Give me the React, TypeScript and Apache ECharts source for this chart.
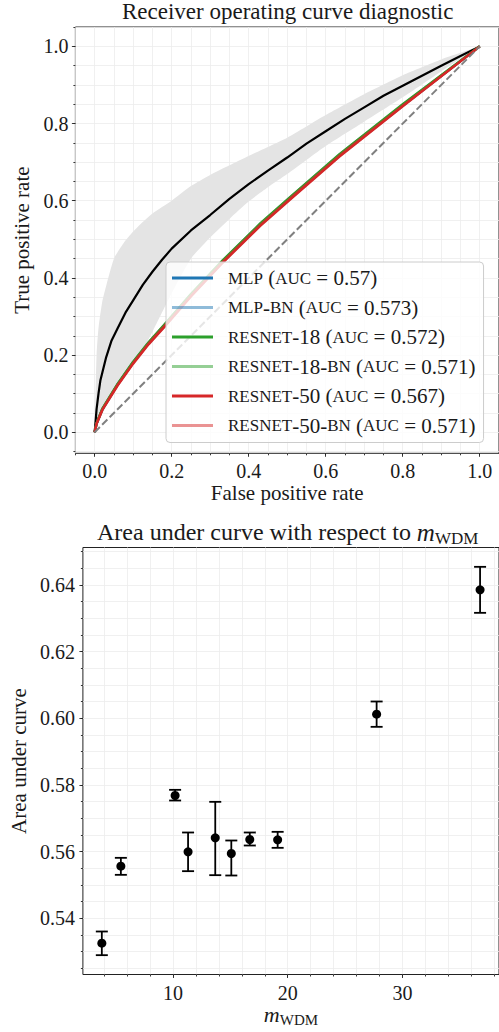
import React, { useEffect, useRef } from 'react';
import * as echarts from 'echarts';

// ---------- Top chart data (ROC) ----------
const bandFpr = [0, 0.005, 0.01, 0.02, 0.03, 0.05, 0.075, 0.1, 0.125, 0.15, 0.2, 0.25, 0.3, 0.35, 0.4, 0.45, 0.5, 0.6, 0.7, 0.8, 0.9, 1.0];
const bandHigh = [0, 0.2, 0.27, 0.34, 0.38, 0.45, 0.49, 0.52, 0.545, 0.567, 0.6, 0.638, 0.667, 0.692, 0.716, 0.739, 0.763, 0.822, 0.876, 0.925, 0.966, 1.0];
const bandLow = [0, 0.012, 0.025, 0.048, 0.068, 0.1, 0.14, 0.175, 0.215, 0.26, 0.36, 0.45, 0.505, 0.553, 0.598, 0.635, 0.669, 0.742, 0.805, 0.868, 0.935, 1.0];

const meanFpr = [0, 0.003, 0.005, 0.01, 0.015, 0.02, 0.03, 0.044, 0.06, 0.08, 0.1, 0.125, 0.15, 0.175, 0.2, 0.25, 0.3, 0.35, 0.4, 0.45, 0.5, 0.55, 0.6, 0.65, 0.7, 0.75, 0.8, 0.85, 0.9, 0.95, 1.0];
const meanTpr = [0, 0.035, 0.06, 0.1, 0.135, 0.155, 0.195, 0.238, 0.27, 0.31, 0.342, 0.382, 0.416, 0.447, 0.476, 0.523, 0.563, 0.605, 0.643, 0.678, 0.712, 0.748, 0.78, 0.812, 0.842, 0.872, 0.898, 0.924, 0.95, 0.975, 1.0];

const rocFpr = [0, 0.005, 0.02, 0.06, 0.1, 0.14, 0.18, 0.25, 0.333, 0.43, 0.506, 0.635, 0.8, 1.0];
const tprMlp = [0, 0.023, 0.059, 0.124, 0.18, 0.23, 0.274, 0.354, 0.442, 0.537, 0.604, 0.716, 0.846, 1.0];
const tprMlpBn = [0, 0.023, 0.06, 0.125, 0.182, 0.232, 0.277, 0.357, 0.445, 0.54, 0.607, 0.719, 0.849, 1.0];
const tprResnet18 = [0, 0.024, 0.061, 0.126, 0.183, 0.233, 0.278, 0.358, 0.446, 0.541, 0.608, 0.72, 0.85, 1.0];
const tprResnet18Bn = [0, 0.023, 0.06, 0.125, 0.181, 0.232, 0.276, 0.356, 0.444, 0.539, 0.606, 0.718, 0.848, 1.0];
const tprResnet50 = [0, 0.022, 0.058, 0.122, 0.178, 0.228, 0.272, 0.352, 0.44, 0.535, 0.602, 0.714, 0.845, 1.0];
const tprResnet50Bn = [0, 0.023, 0.06, 0.124, 0.18, 0.231, 0.275, 0.355, 0.443, 0.538, 0.605, 0.717, 0.847, 1.0];

const modelNames = ['MLP', 'MLP-BN', 'RESNET-18', 'RESNET-18-BN', 'RESNET-50', 'RESNET-50-BN'];
const modelAuc = ['0.57', '0.573', '0.572', '0.571', '0.567', '0.571'];
const modelTpr = [tprMlp, tprMlpBn, tprResnet18, tprResnet18Bn, tprResnet50, tprResnet50Bn];
const modelColors = ['#1f77b4', 'rgba(31,119,180,0.5)', '#2ca02c', 'rgba(44,160,44,0.5)', '#d62728', 'rgba(214,39,40,0.5)'];

const diagX = [0, 1];
const diagY = [0, 1];

const topMajorTicks = [0, 0.2, 0.4, 0.6, 0.8, 1.0];
const topMinorTicks = [-0.05, 0, 0.05, 0.1, 0.15, 0.2, 0.25, 0.3, 0.35, 0.4, 0.45, 0.5, 0.55, 0.6, 0.65, 0.7, 0.75, 0.8, 0.85, 0.9, 0.95, 1.0, 1.05];

// ---------- Bottom chart data (AUC vs m_WDM) ----------
const mWdm = [3.79, 5.45, 10.18, 11.31, 13.68, 15.08, 16.69, 19.12, 27.75, 36.77];
const aucMean = [0.5325, 0.5556, 0.5768, 0.5599, 0.5641, 0.5594, 0.5636, 0.5635, 0.6012, 0.6385];
const aucLow = [0.5289, 0.553, 0.5753, 0.5541, 0.5529, 0.5528, 0.5618, 0.5611, 0.5974, 0.6316];
const aucHigh = [0.536, 0.5581, 0.5785, 0.5657, 0.5749, 0.5633, 0.5657, 0.5659, 0.605, 0.6454];

const botXMajor = [10, 20, 30];
const botXMinor = [4, 6, 8, 10, 12, 14, 16, 18, 20, 22, 24, 26, 28, 30, 32, 34, 36, 38];
const botYMajor = [0.54, 0.56, 0.58, 0.6, 0.62, 0.64];
const botYMinor = [0.525, 0.53, 0.535, 0.54, 0.545, 0.55, 0.555, 0.56, 0.565, 0.57, 0.575, 0.58, 0.585, 0.59, 0.595, 0.6, 0.605, 0.61, 0.615, 0.62, 0.625, 0.63, 0.635, 0.64, 0.645, 0.65];

const FONT = 'Liberation Serif';
const TEXT = '#1a1a1a';
const tickLine = { color: '#222222', width: 0.9 };
const gridLine = { color: '#ececec', width: 0.8 };

const axisRich = {
  t: { fontFamily: FONT, fontSize: 20, color: TEXT },
};
const nameRich = {
  t: { fontFamily: FONT, fontSize: 21, color: TEXT },
  i: { fontFamily: FONT, fontSize: 22, fontStyle: 'italic', color: TEXT },
  s: { fontFamily: FONT, fontSize: 15, color: TEXT, padding: [12, 0, 0, 0] },
};

function minorAxis(gridIndex: number, min: number, max: number, ticks: number[], pos: string) {
  return {
    gridIndex, type: 'value', min, max, position: pos,
    axisLine: { show: false, onZero: false },
    axisTick: { show: true, length: 2, customValues: ticks, lineStyle: tickLine },
    axisLabel: { show: false },
    splitLine: { show: true, lineStyle: gridLine },
  };
}

function majorAxis(gridIndex: number, min: number, max: number, ticks: number[], pos: string, digits: number, margin: number, name: string, nameGap: number) {
  return {
    gridIndex, type: 'value', min, max, position: pos,
    axisLine: { show: false, onZero: false },
    axisTick: { show: true, length: 3.5, customValues: ticks, lineStyle: tickLine },
    axisLabel: {
      show: true, fontFamily: FONT, fontSize: 20, color: TEXT, customValues: ticks, margin,
      formatter: (v: number) => `{t|${digits >= 0 ? v.toFixed(digits) : String(Math.round(v))}}`,
      rich: axisRich,
    },
    splitLine: { show: false },
    name, nameLocation: 'middle', nameGap,
    nameTextStyle: { fontFamily: FONT, fontSize: 21, color: TEXT, rich: nameRich },
  };
}

const legendRich = {
  n: { fontFamily: FONT, fontSize: 21, color: TEXT, lineHeight: 22 },
  sc: { fontFamily: FONT, fontSize: 17, color: TEXT, lineHeight: 22 },
};

function legendLabel(name: string) {
  const i = modelNames.indexOf(name);
  const parts = name.split('-').map((p) => (/^[0-9]+$/.test(p) ? `{n|${p}}` : `{sc|${p}}`));
  return `${parts.join('{n|-}')}{n| (}{sc|AUC}{n| = ${modelAuc[i]})}`;
}

function buildOption(): any {
  const series: any[] = [];
  // band (fill between lower and upper edge)
  series.push({
    type: 'custom', xAxisIndex: 1, yAxisIndex: 1, silent: true, z: 1,
    encode: { x: 0, y: [1, 2] },
    data: bandFpr.map((x, i) => [x, bandLow[i], bandHigh[i]]),
    renderItem: (params: any, api: any) => {
      if (params.dataIndex !== 0) return null;
      const pts: number[][] = [];
      for (let i = 0; i < bandFpr.length; i++) pts.push(api.coord([bandFpr[i], bandHigh[i]]));
      for (let i = bandFpr.length - 1; i >= 0; i--) pts.push(api.coord([bandFpr[i], bandLow[i]]));
      return { type: 'polygon', shape: { points: pts, smooth: 0.2 }, style: { fill: '#e4e4e4' } };
    },
  });
  // mean curve
  series.push({
    type: 'line', xAxisIndex: 1, yAxisIndex: 1, symbol: 'none', silent: true, z: 3,
    lineStyle: { color: '#000000', width: 2.2 },
    data: meanFpr.map((x, i) => [x, meanTpr[i]]),
  });
  modelNames.forEach((n, k) => {
    series.push({
      name: n, type: 'line', xAxisIndex: 1, yAxisIndex: 1, symbol: 'none', z: 4,
      color: modelColors[k],
      lineStyle: { color: modelColors[k], width: 2.5 },
      data: rocFpr.map((x, i) => [x, modelTpr[k][i]]),
    });
  });
  series.push({
    type: 'line', xAxisIndex: 1, yAxisIndex: 1, symbol: 'none', silent: true, z: 5,
    lineStyle: { color: '#808080', width: 2, type: [7.4, 3.2] },
    data: diagX.map((x, i) => [x, diagY[i]]),
  });

  // bottom: error bars
  series.push({
    type: 'custom', xAxisIndex: 3, yAxisIndex: 3, silent: true, z: 3,
    encode: { x: 0, y: [1, 2] },
    data: mWdm.map((x, i) => [x, aucLow[i], aucHigh[i]]),
    renderItem: (params: any, api: any) => {
      const x = api.value(0);
      const p1 = api.coord([x, api.value(1)]);
      const p2 = api.coord([x, api.value(2)]);
      const w = 6;
      const st = { stroke: '#000000', lineWidth: 1.8 };
      return {
        type: 'group',
        children: [
          { type: 'line', shape: { x1: p1[0], y1: p1[1], x2: p2[0], y2: p2[1] }, style: st },
          { type: 'line', shape: { x1: p1[0] - w, y1: p1[1], x2: p1[0] + w, y2: p1[1] }, style: st },
          { type: 'line', shape: { x1: p2[0] - w, y1: p2[1], x2: p2[0] + w, y2: p2[1] }, style: st },
        ],
      };
    },
  });
  series.push({
    type: 'scatter', xAxisIndex: 3, yAxisIndex: 3, symbolSize: 9, z: 4, silent: true,
    itemStyle: { color: '#000000', opacity: 1 },
    data: mWdm.map((x, i) => [x, aucMean[i]]),
  });

  return {
    animation: false,
    backgroundColor: '#ffffff',
    textStyle: { fontFamily: FONT },
    grid: [
      { left: 75.4, top: 27, width: 424.6, height: 426.3, show: true, borderColor: '#222222', borderWidth: 1, containLabel: false },
      { left: 74, top: 547.5, width: 427.4, height: 427, show: true, borderColor: '#222222', borderWidth: 1, containLabel: false },
    ],
    xAxis: [
      minorAxis(0, -0.05, 1.05, topMinorTicks, 'bottom'),
      majorAxis(0, -0.05, 1.05, topMajorTicks, 'bottom', 1, 8, '{t|False positive rate}', 28),
      minorAxis(1, 2.14, 38.42, botXMinor, 'bottom'),
      majorAxis(1, 2.14, 38.42, botXMajor, 'bottom', -1, 8, '{i|m}{s|WDM}', 23),
    ],
    yAxis: [
      minorAxis(0, -0.0544, 1.0502, topMinorTicks, 'left'),
      majorAxis(0, -0.0544, 1.0502, topMajorTicks, 'left', 1, 7, '{t|True positive rate}', 38),
      minorAxis(1, 0.5231, 0.6512, botYMinor, 'left'),
      majorAxis(1, 0.5231, 0.6512, botYMajor, 'left', 2, 8, '{t|Area under curve}', 47),
    ],
    legend: {
      show: true,
      data: modelNames,
      orient: 'vertical',
      left: 166, top: 262,
      itemWidth: 41, itemHeight: 3, itemGap: 7.5,
      icon: 'rect',
      selectedMode: false,
      padding: [5, 8, 6, 6],
      backgroundColor: 'rgba(255,255,255,0.8)',
      borderColor: '#cccccc', borderWidth: 1, borderRadius: 4,
      formatter: legendLabel,
      textStyle: { fontFamily: FONT, fontSize: 21, lineHeight: 22, color: TEXT, padding: [0, 0, 0, 10], rich: legendRich },
      z: 10,
    },
    graphic: [
      {
        type: 'text', x: 287.7, y: 11, z: 20,
        style: { text: 'Receiver operating curve diagnostic', fontFamily: FONT, fontSize: 23, fill: TEXT, align: 'center', verticalAlign: 'middle' },
      },
      {
        type: 'text', x: 287.7, y: 532, z: 20,
        style: {
          text: '{n|Area under curve with respect to }{i|m}{s|WDM}', align: 'center', verticalAlign: 'middle',
          rich: {
            n: { fontFamily: FONT, fontSize: 24, fill: TEXT },
            i: { fontFamily: FONT, fontSize: 25, fontStyle: 'italic', fill: TEXT },
            s: { fontFamily: FONT, fontSize: 17, fill: TEXT, padding: [12, 0, 0, 0] },
          },
        },
      },
    ],
    series,
  };
}

export default function App() {
  const ref = useRef<HTMLDivElement>(null);
  useEffect(() => {
    if (!ref.current) return;
    const chart = echarts.init(ref.current, null, { renderer: 'svg' });
    chart.setOption(buildOption());
    return () => chart.dispose();
  }, []);
  return <div ref={ref} style={{ position: 'absolute', left: 0, top: 0, width: 499, height: 1032 }} />;
}
